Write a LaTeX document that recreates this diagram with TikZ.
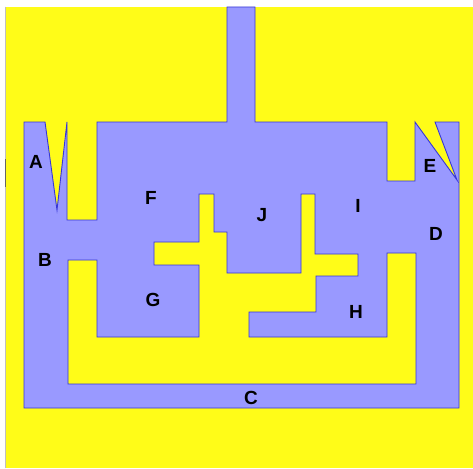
\documentclass[tikz,border=0pt]{standalone}
\usepackage{fontspec}
\setmainfont{Liberation Sans}
\definecolor{bgyellow}{RGB}{255,252,24}
\definecolor{mazeblue}{RGB}{153,153,255}
\definecolor{edgeblue}{RGB}{55,55,215}
\tikzset{
  lbl/.style={font=\fontsize{19}{19}\selectfont\bfseries, text=black, inner sep=0pt, anchor=center},
  wall/.style={fill=mazeblue, draw=edgeblue, line width=0.9pt, even odd rule, line join=miter}
}
\begin{document}
\begin{tikzpicture}[x=1pt,y=-1pt]
\useasboundingbox (0,0) rectangle (473,468);
\fill[white] (0,0) rectangle (473,468);
\fill[bgyellow] (6,7) rectangle (473,468);
\draw[gray!50, line width=1pt] (5.5,7) -- (5.5,468);
\draw[gray!80!black, line width=1.2pt] (5.5,159) -- (5.5,187);
% maze region (outer boundary with holes)
\path[wall]
  (24,122) -- (45,122) -- (57,210) -- (67,122) -- (67,220) -- (97,220) -- (97,122)
  -- (227,122) -- (227,7) -- (255,7) -- (255,122) -- (387,122) -- (387,181)
  -- (415,181) -- (415,122) -- (457,180) -- (435,122) -- (459,122) -- (459,408)
  -- (24,408) -- cycle
  (68,260) -- (68,384) -- (416,384) -- (416,253) -- (387,253) -- (387,337)
  -- (249,337) -- (249,312) -- (316,312) -- (316,276) -- (358,276) -- (358,254)
  -- (315,254) -- (315,194) -- (301,194) -- (301,273) -- (227,273) -- (227,232)
  -- (214,232) -- (214,194) -- (199,194) -- (199,242) -- (154,242) -- (154,265)
  -- (199,265) -- (199,337) -- (97,337) -- (97,260) -- cycle;
\node[lbl] (A) at (36,162) {A};
\node[lbl] (B) at (45,260) {B};
\node[lbl] (C) at (251,398) {C};
\node[lbl] (D) at (436,234) {D};
\node[lbl] (E) at (430,166) {E};
\node[lbl] (F) at (151,198) {F};
\node[lbl] (G) at (153,300) {G};
\node[lbl] (H) at (356,312) {H};
\node[lbl] (I) at (358,206) {I};
\node[lbl] (J) at (262,215) {J};
\end{tikzpicture}
\end{document}
